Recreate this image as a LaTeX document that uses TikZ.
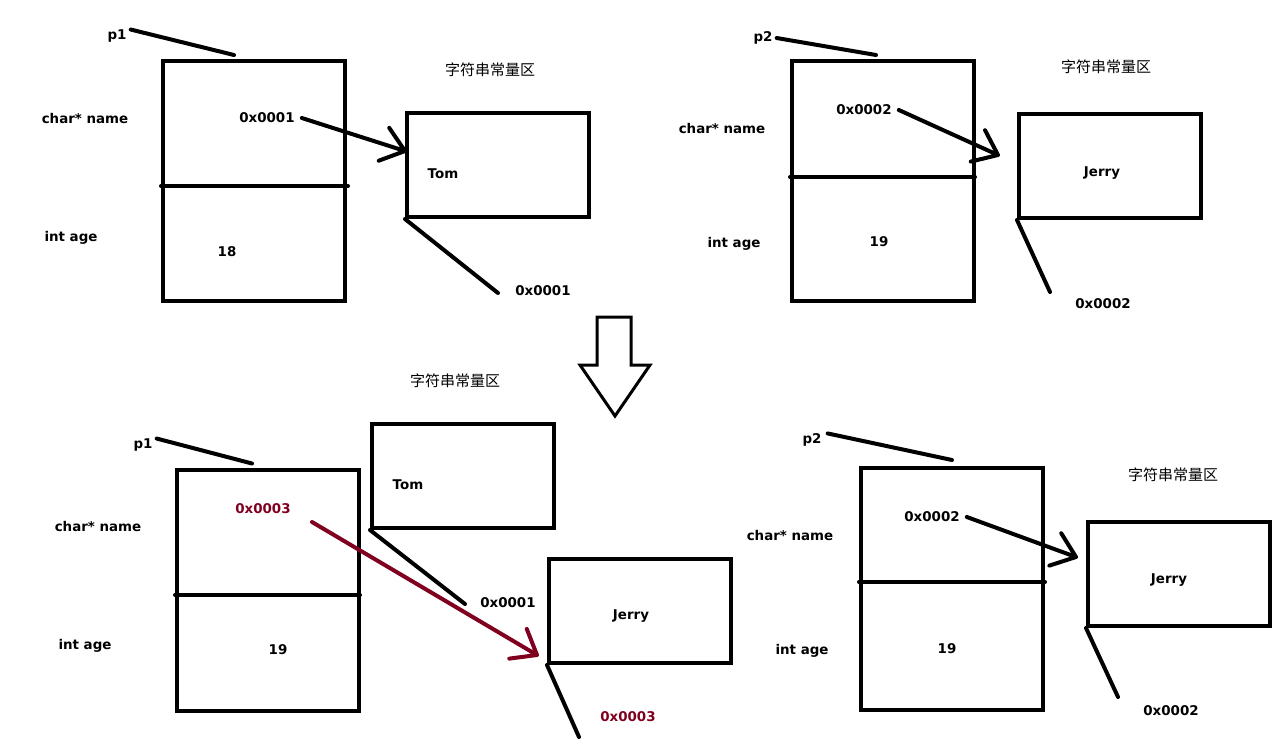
\documentclass[tikz,border=0pt]{standalone}
\usepackage{fontspec}
\setmainfont{DejaVu Sans}
\newfontfamily\cjk{Noto Sans CJK SC}
\usetikzlibrary{calc}
\definecolor{ptrred}{RGB}{128,0,32}
\tikzset{
  wire/.style={line width=4pt,line cap=round,line join=round},
  txt/.style={font=\bfseries\fontsize{13.4}{15}\selectfont,inner sep=0pt},
  area/.style={font=\cjk\fontsize{15}{16}\selectfont,inner sep=0pt},
  objbox/.style={draw,line width=4pt,inner sep=0pt,minimum width=182pt,minimum height=#1},
  strbox/.style={draw,line width=4pt,inner sep=0pt,minimum width=182pt,minimum height=104pt}
}
% open hand-drawn arrow: [colour]{from}{to}
\newcommand\ptrline[3][black]{%
  \draw[wire,#1] (#2) -- (#3)
    ($(#3)!28pt!38:(#2)$) -- (#3) -- ($(#3)!28pt!-38:(#2)$);}
\begin{document}
\begin{tikzpicture}[x=1pt,y=-1pt]
  \useasboundingbox (0,0) rectangle (1275,748);
  % p1 before
  \node[objbox=240pt] (obj1) at (254,181) {};
  \draw[wire] (obj1.west |- 0,186) -- ++(187,0);
  \node[txt] (p1a) at (117,36) {p1};
  \node[txt] (nm1) at (85,118) {char* name};
  \node[txt] (ag1) at (71,238) {int age};
  \node[txt] (v1) at (267,118) {0x0001};
  \node[txt] (n1) at (227,252) {18};
  \node[area] (ar1) at (490,70) {字符串常量区};
  \node[strbox] (str1) at (498,165) {};
  \node[txt] (tom1) at (443,174) {Tom};
  \node[txt] (ad1) at (543,291) {0x0001};
  \coordinate (e1) at (498,293);
  \coordinate (s1) at ([xshift=7pt]v1.east);
  \coordinate (t1) at ([yshift=14pt]str1.west);
  \draw[wire] ([xshift=4pt]p1a.north east) -- ([xshift=-20pt,yshift=4pt]obj1.north);
  \ptrline{s1}{t1}
  \draw[wire] (str1.south west) -- (e1);
  % p2 before
  \node[objbox=240pt] (obj2) at (883,181) {};
  \draw[wire] (obj2.west |- 0,177) -- ++(185,0);
  \node[txt] (p2a) at (763,38) {p2};
  \node[txt] (nm2) at (722,128) {char* name};
  \node[txt] (ag2) at (734,244) {int age};
  \node[txt] (v2) at (864,110) {0x0002};
  \node[txt] (n2) at (879,242) {19};
  \node[area] (ar2) at (1106,67) {字符串常量区};
  \node[strbox] (str2) at (1110,166) {};
  \node[txt] (jer2) at (1102,173) {Jerry};
  \node[txt] (ad2) at (1103,304) {0x0002};
  \coordinate (e2) at (1050,292);
  \coordinate (s2) at ([xshift=7pt]v2.east);
  \coordinate (t2) at ([xshift=-19pt,yshift=11pt]str2.west);
  \draw[wire] ([xshift=4pt]p2a.east) -- ([xshift=-7pt,yshift=4pt]obj2.north);
  \ptrline{s2}{t2}
  \draw[wire] (str2.south west) -- (e2);
  % assignment
  \draw[line width=3pt,line join=miter] (597,317) -- (631,317) -- (631,365) -- (650,365)
    -- (615,416) -- (580,365) -- (597,365) -- cycle;
  % p1 after
  \node[objbox=241pt] (obj3) at (268,590) {};
  \draw[wire] (obj3.west |- 0,595) -- ++(185,0);
  \node[txt] (p1b) at (143,445) {p1};
  \node[txt] (nm3) at (98,526) {char* name};
  \node[txt] (ag3) at (85,646) {int age};
  \node[txt,text=ptrred] (v3) at (263,509) {0x0003};
  \node[txt] (n3) at (278,650) {19};
  \node[area] (ar3) at (455,381) {字符串常量区};
  \node[strbox] (str3) at (463,476) {};
  \node[txt] (tom3) at (408,485) {Tom};
  \node[txt] (ad3) at (508,603) {0x0001};
  \coordinate (e3) at (465,604);
  \node[strbox] (str4) at (640,611) {};
  \node[txt] (jer4) at (631,616) {Jerry};
  \node[txt,text=ptrred] (ad4) at (628,717) {0x0003};
  \coordinate (e4) at (579,737);
  \coordinate (s3) at (312,522);
  \coordinate (t3) at ([xshift=-10pt,yshift=-44pt]str4.west);
  \draw[wire] ([xshift=4pt]p1b.north east) -- ([xshift=-16pt,yshift=4pt]obj3.north);
  \ptrline[ptrred]{s3}{t3}
  \draw[wire] (str3.south west) -- (e3);
  \draw[wire] (str4.south west) -- (e4);
  % p2 after
  \node[objbox=242pt] (obj5) at (952,589) {};
  \draw[wire] (obj5.west |- 0,582) -- ++(186,0);
  \node[txt] (p2b) at (812,440) {p2};
  \node[txt] (nm5) at (790,535) {char* name};
  \node[txt] (ag5) at (802,651) {int age};
  \node[txt] (v5) at (932,517) {0x0002};
  \node[txt] (n5) at (947,649) {19};
  \node[area] (ar5) at (1173,475) {字符串常量区};
  \node[strbox] (str5) at (1179,574) {};
  \node[txt] (jer5) at (1169,580) {Jerry};
  \node[txt] (ad5) at (1171,711) {0x0002};
  \coordinate (e5) at (1118,697);
  \coordinate (s5) at ([xshift=7pt]v5.east);
  \coordinate (t5) at ([xshift=-10pt,yshift=17pt]str5.west);
  \draw[wire] ([xshift=6pt]p2b.north east) -- ([xshift=0pt,yshift=6pt]obj5.north);
  \ptrline{s5}{t5}
  \draw[wire] (str5.south west) -- (e5);
\end{tikzpicture}
\end{document}
